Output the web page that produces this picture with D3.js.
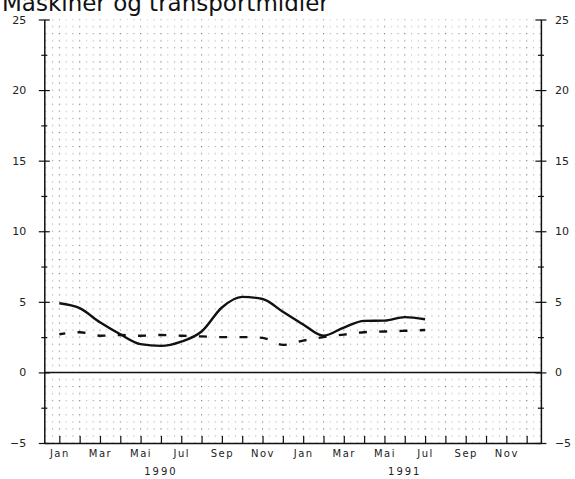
<!DOCTYPE html>
<html>
<head>
<meta charset="utf-8">
<script src="https://cdn.jsdelivr.net/npm/d3@7"></script>
<style>
  html, body { margin: 0; padding: 0; background: #fff; }
  svg { display: block; }
  text { font-family: "DejaVu Sans", sans-serif; fill: #222; }
</style>
</head>
<body>
<svg id="chart" width="575" height="479"></svg>
<script>
// ---- data ----
const title = "Maskiner og transportmidler";
const monthNames = ["Jan","Feb","Mar","Apr","Mai","Jun","Jul","Aug","Sep","Okt","Nov","Des"];
const years = ["1990", "1991"];
// solid series, Jan 1990 .. Jul 1991
const seriesSolid = [4.9, 4.55, 3.55, 2.7, 2.0, 1.88, 2.18, 2.9, 4.6, 5.35, 5.2, 4.3,
                     3.4, 2.6, 3.18, 3.65, 3.67, 3.92, 3.77];
// dashed series, Jan 1990 .. Jul 1991
const seriesDashed = [2.7, 2.85, 2.6, 2.65, 2.6, 2.65, 2.6, 2.55, 2.5, 2.5, 2.45, 1.95,
                      2.25, 2.5, 2.68, 2.85, 2.9, 2.95, 3.0];
const yTicks = [-5, -2.5, 0, 2.5, 5, 7.5, 10, 12.5, 15, 17.5, 20, 22.5, 25];
const yLabels = [-5, 0, 5, 10, 15, 20, 25];

// ---- layout ----
const svg = d3.select("#chart");
const x = d3.scaleLinear().domain([-0.74, 23.7]).range([44.3, 540.9]);
const y = d3.scaleLinear().domain([-5, 25]).range([443, 19.5]);
const nMonths = years.length * 12;
const allMonths = d3.range(nMonths);

// dotted background
const defs = svg.append("defs");
const stepX = (x(1) - x(0)) / 3;
const stepY = y(0) - y(0.5);
const pat = defs.append("pattern")
  .attr("id", "dots")
  .attr("patternUnits", "userSpaceOnUse")
  .attr("x", x(0) - 0.5).attr("y", y(0) - 0.5)
  .attr("width", stepX * 3).attr("height", stepY * 2);
[[0, 0, "#666"], [0, 1, "#777"], [1, 0, "#aaa"], [2, 0, "#999"],
 [1, 1, "#bbb"], [2, 1, "#aaa"]].forEach(([i, j, c]) => {
  pat.append("rect")
    .attr("x", i * stepX).attr("y", j * stepY)
    .attr("width", 1.1).attr("height", 1.1).attr("fill", c);
});
svg.append("rect")
  .attr("x", x.range()[0]).attr("y", y(25))
  .attr("width", x.range()[1] - x.range()[0])
  .attr("height", y(-5) - y(25))
  .attr("fill", "url(#dots)");

// title
svg.append("text")
  .attr("x", 2).attr("y", 11)
  .style("font-size", "23px")
  .style("fill", "#111")
  .text(title);

// left axis
const gL = svg.append("g")
  .attr("transform", `translate(${x.range()[0]},0)`)
  .call(d3.axisLeft(y).tickValues(yTicks).tickSize(0).tickPadding(18)
    .tickFormat(d => yLabels.includes(d) ? d3.format("d")(d) : ""));
gL.select(".domain").attr("stroke", "#111").attr("stroke-width", 1.5);
gL.selectAll(".tick line")
  .attr("stroke", "#111").attr("stroke-width", 1.2)
  .attr("x1", d => d % 5 === 0 ? -5.5 : -3)
  .attr("x2", d => d % 5 === 0 ? 5.5 : 3);
gL.selectAll(".tick text").style("font-size", "11px").style("font-family", "DejaVu Sans").attr("fill", "#222");

// right axis
const gR = svg.append("g")
  .attr("transform", `translate(${x.range()[1]},0)`)
  .call(d3.axisRight(y).tickValues(yTicks).tickSize(0).tickPadding(14)
    .tickFormat(d => yLabels.includes(d) ? d3.format("d")(d) : ""));
gR.select(".domain").attr("stroke", "#111").attr("stroke-width", 1.5);
gR.selectAll(".tick line")
  .attr("stroke", "#111").attr("stroke-width", 1.2)
  .attr("x1", d => d % 5 === 0 ? -5.5 : -3)
  .attr("x2", d => d % 5 === 0 ? 5.5 : 3);
gR.selectAll(".tick text").style("font-size", "11px").style("font-family", "DejaVu Sans").attr("fill", "#222");

// bottom axis
const gB = svg.append("g")
  .attr("transform", `translate(0,${y(-5)})`)
  .call(d3.axisBottom(x).tickValues(allMonths).tickSize(-7).tickSizeOuter(0).tickPadding(6.5)
    .tickFormat(i => i % 2 === 0 ? monthNames[i % 12] : ""));
gB.select(".domain").attr("stroke", "#111").attr("stroke-width", 1.5);
gB.selectAll(".tick line").attr("stroke", "#111").attr("stroke-width", 1.2);
gB.selectAll(".tick text")
  .style("font-size", "10px").style("font-family", "DejaVu Sans")
  .style("letter-spacing", "1.5px").attr("fill", "#222");

// year labels
svg.append("g").selectAll("text")
  .data(years)
  .join("text")
  .attr("x", (d, k) => x(k * 12 + 5))
  .attr("y", 475)
  .attr("text-anchor", "middle")
  .style("font-size", "10px")
  .style("letter-spacing", "2px")
  .text(d => d);

// zero line
svg.append("line")
  .attr("x1", x.range()[0]).attr("x2", x.range()[1])
  .attr("y1", y(0)).attr("y2", y(0))
  .attr("stroke", "#111").attr("stroke-width", 1.5);

// series
const line = d3.line().x((d, i) => x(i)).y(d => y(d)).curve(d3.curveMonotoneX);
svg.append("path")
  .datum(seriesSolid)
  .attr("d", line)
  .attr("fill", "none").attr("stroke", "#111").attr("stroke-width", 2.4)
  .attr("stroke-linejoin", "round");
svg.append("path")
  .datum(seriesDashed)
  .attr("d", line)
  .attr("fill", "none").attr("stroke", "#111").attr("stroke-width", 2.4)
  .attr("stroke-dasharray", "8,12.3").attr("stroke-dashoffset", 2);
</script>
</body>
</html>
